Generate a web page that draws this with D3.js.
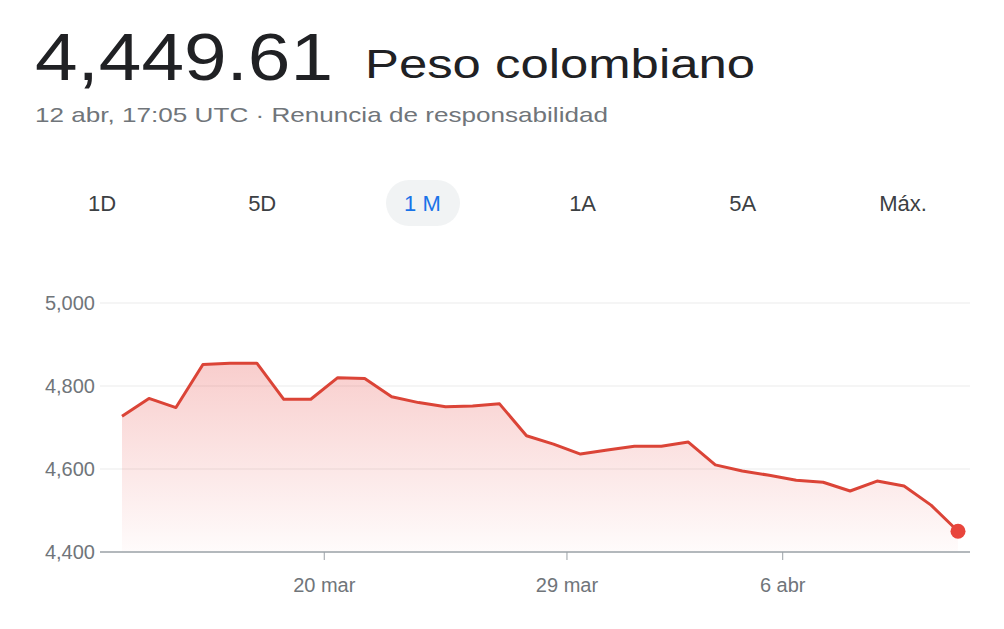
<!DOCTYPE html>
<html><head><meta charset="utf-8">
<script src="https://cdn.jsdelivr.net/npm/d3@7"></script>
<style>body{margin:0;background:#fff;font-family:"Liberation Sans",Arial,sans-serif}</style>
</head><body><svg id="c" width="1004" height="629"></svg>
<script>
const startDate = "2021-03-12T12:00:00";
const values = [4727,4770,4748,4852,4855,4855,4768,4768,4820,4818,4774,4760,4750,4752,4757,4680,4660,4636,4646,4655,4655,4665,4610,4595,4585,4573,4568,4547,4571,4559,4513,4450];
const yTicks = [4400,4600,4800,5000];
const xTickDates = ["2021-03-20","2021-03-29","2021-04-06"];
const xTickLabels = ["20 mar","29 mar","6 abr"];
const tabs = ["1D","5D","1 M","1A","5A","Máx."];

const t0 = new Date(startDate);
const data = values.map((v,i)=>({d:new Date(t0.getTime()+i*864e5), v}));
const svg = d3.select("#c");
const x = d3.scaleTime().domain([data[0].d, data[data.length-1].d]).range([122,958]);
const y = d3.scaleLinear().domain([4400,5000]).range([552,303]);

svg.append("text").attr("x",35).attr("y",80).attr("font-size",66).attr("fill","#202124").attr("textLength",298).attr("lengthAdjust","spacingAndGlyphs").text("4,449.61");
svg.append("text").attr("x",365).attr("y",78).attr("font-size",40).attr("fill","#202124").attr("textLength",390).attr("lengthAdjust","spacingAndGlyphs").text("Peso colombiano");
svg.append("text").attr("x",35).attr("y",122).attr("font-size",21).attr("fill","#70757a").attr("textLength",573).attr("lengthAdjust","spacingAndGlyphs").text("12 abr, 17:05 UTC · Renuncia de responsabilidad");

const tabX = d3.scalePoint().domain(tabs).range([102,903]);
svg.append("rect").attr("x",386).attr("y",180).attr("width",74).attr("height",46).attr("rx",23).attr("fill","#f1f3f4");
tabs.forEach(t=>{
  svg.append("text").attr("x",tabX(t)).attr("y",211).attr("text-anchor","middle").attr("font-size",22)
    .attr("fill", t==="1 M" ? "#1a73e8" : "#3c4043").text(t);
});

const defs = svg.append("defs");
const g = defs.append("linearGradient").attr("id","gr").attr("x1",0).attr("x2",0).attr("y1",0).attr("y2",1);
g.append("stop").attr("offset","0%").attr("stop-color","#e53935").attr("stop-opacity",0.25);
g.append("stop").attr("offset","100%").attr("stop-color","#e53935").attr("stop-opacity",0.02);

yTicks.forEach(t=>{
  svg.append("line").attr("x1",100).attr("x2",970).attr("y1",y(t)).attr("y2",y(t))
    .attr("stroke", t===4400 ? "#9aa0a6" : "#ebebeb").attr("stroke-width",t===4400?1.5:1);
  svg.append("text").attr("x",95).attr("y",y(t)+7).attr("text-anchor","end").attr("font-size",20).attr("fill","#70757a").text(d3.format(",")(t));
});
xTickDates.forEach((d,i)=>{
  const xx = x(new Date(d+"T00:00:00"));
  svg.append("line").attr("x1",xx).attr("x2",xx).attr("y1",552).attr("y2",560).attr("stroke","#9aa0a6");
  svg.append("text").attr("x",xx).attr("y",592).attr("text-anchor","middle").attr("font-size",20).attr("fill","#70757a").text(xTickLabels[i]);
});

svg.append("path").datum(data).attr("fill","url(#gr)")
  .attr("d", d3.area().x(d=>x(d.d)).y0(551).y1(d=>y(d.v)));
svg.append("path").datum(data).attr("fill","none").attr("stroke","#db4437").attr("stroke-width",3).attr("stroke-linejoin","round")
  .attr("d", d3.line().x(d=>x(d.d)).y(d=>y(d.v)));
const last = data[data.length-1];
svg.append("circle").attr("cx",x(last.d)).attr("cy",y(last.v)).attr("r",7.5).attr("fill","#e8453c");
</script></body></html>
